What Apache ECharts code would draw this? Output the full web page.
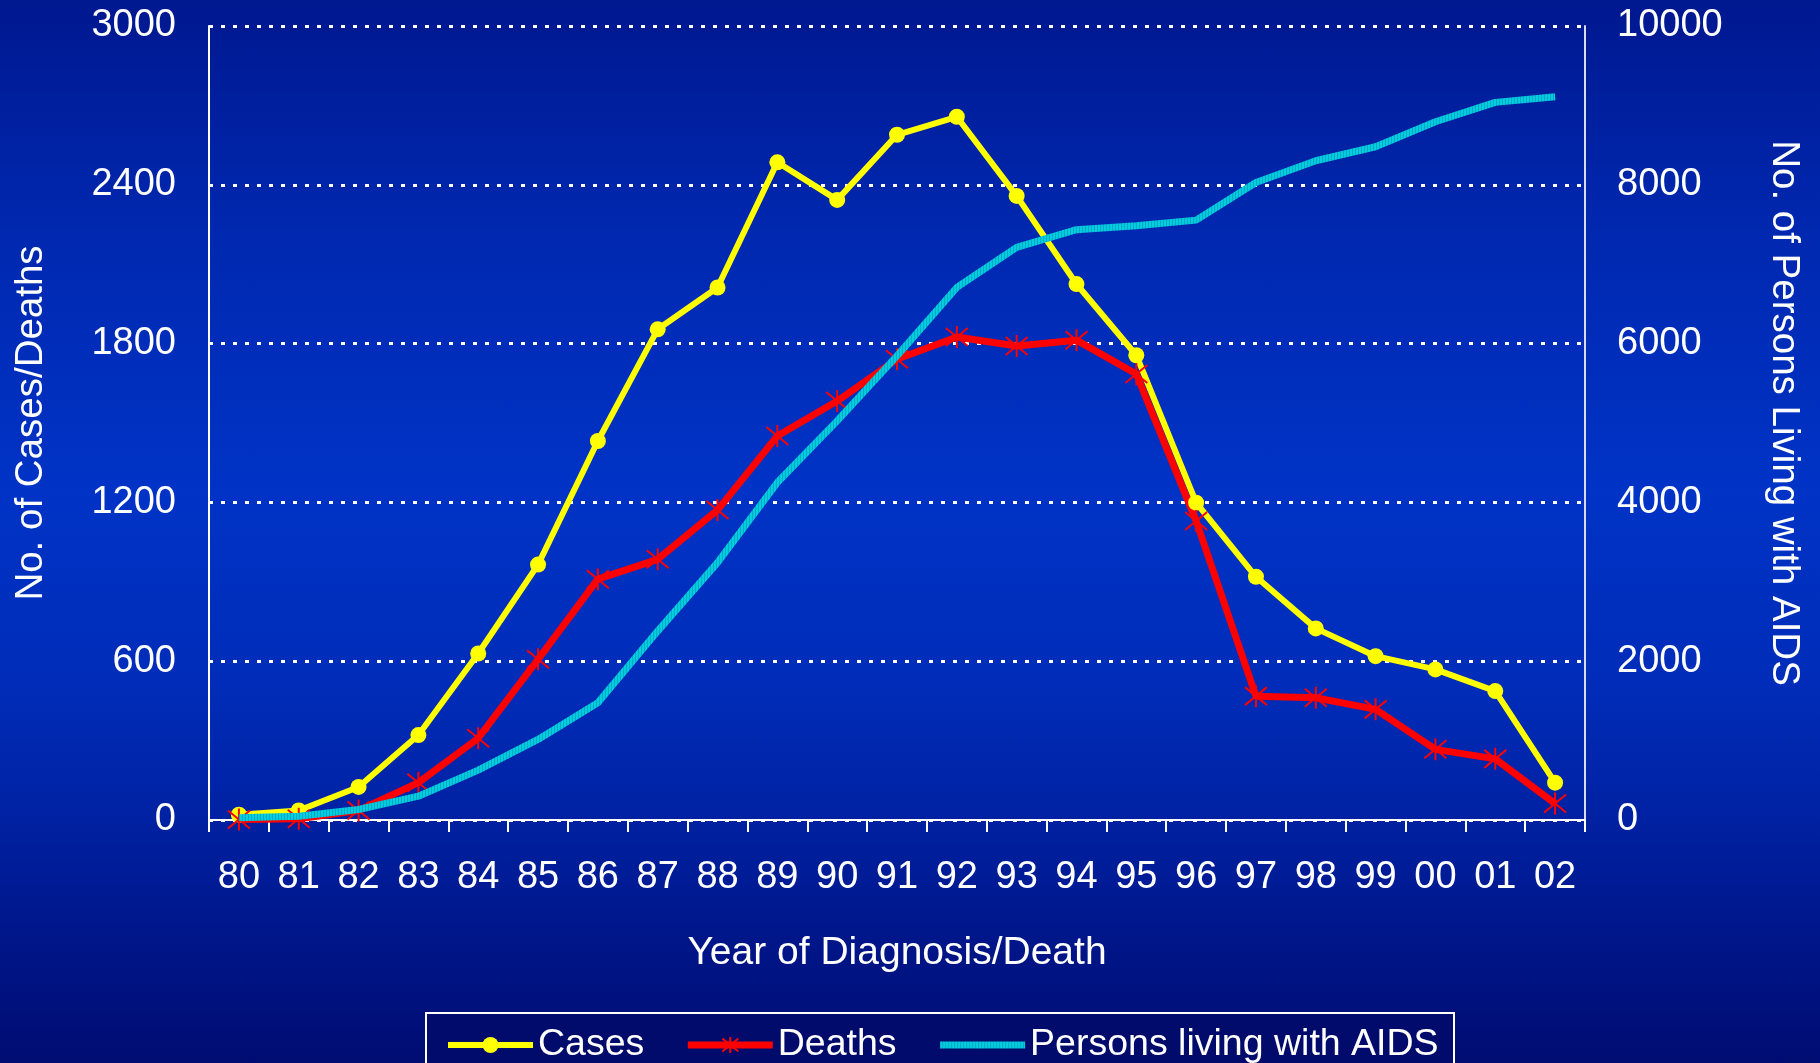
<!DOCTYPE html>
<html>
<head>
<meta charset="utf-8">
<script src="https://cdn.jsdelivr.net/npm/echarts@6/dist/echarts.min.js"></script>
<style>
  html, body { margin: 0; padding: 0; width: 1820px; height: 1063px; overflow: hidden; }
  #chart {
    width: 1820px; height: 1063px;
    background: linear-gradient(to bottom, #001890 0%, #0028b0 22%, #0033c6 46%, #002cb8 65%, #0020a0 78%, #00168a 88%, #000c72 100%);
  }
</style>
</head>
<body>
<div id="chart"></div>
<script>
const years = ['80','81','82','83','84','85','86','87','88','89','90','91','92','93','94','95','96','97','98','99','00','01','02'];
const cases = [20, 36, 125, 321, 629, 965, 1432, 1854, 2012, 2485, 2343, 2589, 2657, 2358, 2025, 1756, 1199, 919, 724, 619, 569, 487, 141];
const deaths = [2, 5, 36, 141, 309, 607, 910, 985, 1171, 1451, 1583, 1741, 1825, 1791, 1813, 1685, 1130, 468, 462, 418, 267, 231, 62];
const living = [28, 48, 132, 300, 628, 1014, 1477, 2379, 3241, 4250, 5026, 5845, 6707, 7211, 7435, 7483, 7555, 8030, 8303, 8479, 8794, 9038, 9109];
const leftTicks = { min: 0, max: 3000, interval: 600 };
const rightTicks = { min: 0, max: 10000, interval: 2000 };

const FONT = '"Liberation Sans", Arial, Helvetica, sans-serif';
const chart = echarts.init(document.getElementById('chart'), null, { renderer: 'canvas' });

const asterisk = 'path://M11,0L11,22M0,2L22,20M22,2L0,20';
const plain = v => String(v);

// subtle vertical hatch texture for the cyan line
const hatch = document.createElement('canvas');
hatch.width = 3; hatch.height = 3;
(function () {
  const c = hatch.getContext('2d');
  c.fillStyle = '#00cee0'; c.fillRect(0, 0, 3, 3);
  c.fillStyle = '#00aac4'; c.fillRect(2, 0, 1, 3);
})();
const cyanPattern = { image: hatch, repeat: 'repeat' };

chart.setOption({
  backgroundColor: 'transparent',
  animation: false,
  textStyle: { fontFamily: FONT, color: '#ffffff' },
  grid: { left: 209, right: 235, top: 26, bottom: 243, containLabel: false },
  graphic: [{
    type: 'rect',
    left: 425, top: 1012,
    shape: { width: 1028, height: 80 },
    style: { fill: '#000b6c', stroke: '#ffffff', lineWidth: 2 },
    z: 0
  }],
  legend: {
    left: 445, top: 1026,
    itemWidth: 85, itemHeight: 20, itemGap: 40,
    padding: 0,
    textStyle: { color: '#ffffff', fontSize: 37.5, fontFamily: FONT },
    data: [
      { name: 'Cases', lineStyle: { width: 6, color: '#ffff00' }, itemStyle: { color: '#ffff00' } },
      { name: 'Deaths', lineStyle: { width: 7, color: '#ff0000' }, itemStyle: { color: '#ff0000', borderColor: '#ff0000', borderWidth: 2 } },
      { name: 'Persons living with AIDS', lineStyle: { width: 7, color: cyanPattern }, itemStyle: { color: 'rgba(0,0,0,0)', borderWidth: 0, opacity: 0 } }
    ],
    z: 5
  },
  xAxis: {
    type: 'category',
    data: years,
    boundaryGap: true,
    name: 'Year of Diagnosis/Death',
    nameLocation: 'middle',
    nameGap: 114,
    nameTextStyle: { color: '#ffffff', fontSize: 39, fontFamily: FONT },
    axisLine: { show: true, lineStyle: { color: '#ffffff', width: 2 } },
    axisTick: { show: true, inside: false, length: 12, lineStyle: { color: '#ffffff', width: 2 } },
    axisLabel: { color: '#ffffff', fontSize: 38, margin: 39, fontFamily: FONT, interval: 0 },
    splitLine: { show: false }
  },
  yAxis: [{
    type: 'value',
    position: 'left',
    min: leftTicks.min, max: leftTicks.max, interval: leftTicks.interval,
    name: 'No. of Cases/Deaths',
    nameLocation: 'middle',
    nameGap: 158,
    nameTextStyle: { color: '#ffffff', fontSize: 38.5, fontFamily: FONT },
    axisLine: { show: true, lineStyle: { color: '#ffffff', width: 2 } },
    axisTick: { show: false },
    axisLabel: { color: '#ffffff', fontSize: 38, margin: 33, fontFamily: FONT, formatter: plain },
    splitLine: { show: true, lineStyle: { color: '#ffffff', width: 3, type: [4, 8] } }
  }, {
    type: 'value',
    position: 'right',
    min: rightTicks.min, max: rightTicks.max, interval: rightTicks.interval,
    name: 'No. of Persons Living with AIDS',
    nameLocation: 'middle',
    nameGap: 179,
    nameRotate: -90,
    nameTextStyle: { color: '#ffffff', fontSize: 38.5, fontFamily: FONT, padding: [0, 20, 0, 0] },
    axisLine: { show: true, lineStyle: { color: '#d8dcf0', width: 2 } },
    axisTick: { show: false },
    axisLabel: { color: '#ffffff', fontSize: 38, margin: 32, fontFamily: FONT, formatter: plain },
    splitLine: { show: false }
  }],
  series: [{
    name: 'Cases',
    type: 'line',
    yAxisIndex: 0,
    data: cases,
    symbol: 'circle',
    symbolSize: 16,
    showAllSymbol: true,
    lineStyle: { color: '#ffff00', width: 6 },
    itemStyle: { color: '#ffff00', borderColor: '#ffff00', borderWidth: 0 },
    z: 3
  }, {
    name: 'Deaths',
    type: 'line',
    yAxisIndex: 0,
    data: deaths,
    symbol: asterisk,
    symbolSize: 22,
    showAllSymbol: true,
    lineStyle: { color: '#ff0000', width: 7 },
    itemStyle: { color: '#ff0000', borderColor: '#ff0000', borderWidth: 2 },
    z: 3
  }, {
    name: 'Persons living with AIDS',
    type: 'line',
    yAxisIndex: 1,
    data: living,
    symbol: 'none',
    lineStyle: { color: cyanPattern, width: 7 },
    itemStyle: { color: '#00c4d6' },
    z: 4
  }]
});
</script>
</body>
</html>
